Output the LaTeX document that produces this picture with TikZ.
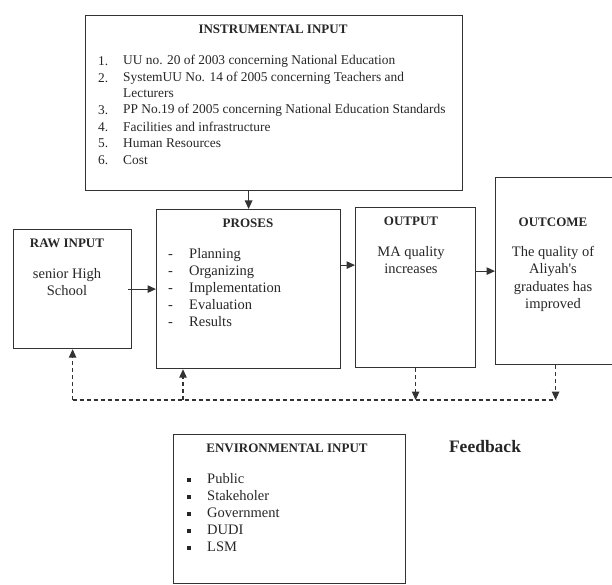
\documentclass[tikz,border=0pt]{standalone}
\usepackage{fontspec}
\setmainfont{Liberation Serif}
\usetikzlibrary{arrows.meta}

\tikzstyle{box} = [draw, line width=1.2pt, inner sep=0pt, anchor=north west]
\tikzstyle{heading} = [font=\fontsize{13}{15}\selectfont\bfseries, inner sep=0pt]
\tikzstyle{entry} = [font=\fontsize{14.5}{17}\selectfont, anchor=west, inner sep=0pt, execute at begin node=\strut]
\tikzstyle{small entry} = [font=\fontsize{13.4}{16}\selectfont, anchor=west, inner sep=0pt]
\tikzstyle{line} = [font=\fontsize{14.5}{17}\selectfont, inner sep=0pt]
\tikzstyle{flow} = [-{Triangle[length=8.5pt,width=7.5pt]}, line width=1.1pt]
\tikzstyle{back} = [flow, dash pattern=on 4pt off 3pt]

\begin{document}
\begin{tikzpicture}[x=1pt, y=-1pt, color=black!80, text=black!85]
      \useasboundingbox (0,0) rectangle (612,585);
      % boxes
      \node[box, minimum width=377pt, minimum height=175pt] (instr) at (85,15) {};
      \node[box, minimum width=184pt, minimum height=159pt] (proses) at (156,209) {};
      \node[box, minimum width=118pt, minimum height=119pt] (raw) at (13,229) {};
      \node[box, minimum width=120pt, minimum height=160pt] (output) at (355,207) {};
      \node[box, minimum width=120pt, minimum height=187pt] (outcome) at (495,177) {};
      \node[box, minimum width=232pt, minimum height=149pt] (env) at (173,434) {};

      % instrumental input
      \node[heading] (instrtitle) at (273,29) {INSTRUMENTAL INPUT};
      \foreach \y/\n/\t in {61/1./UU no. 20 of 2003 concerning National Education,
          78/2./SystemUU No. 14 of 2005 concerning Teachers and,
          93//Lecturers,
          110/3./PP No.19 of 2005 concerning National Education Standards,
          127/4./Facilities and infrastructure,
          143/5./Human Resources,
          160/6./Cost}
        {
        \node[small entry] (instrnum\y) at (98,\y) {\n};
        \node[small entry] (instritem\y) at (123,\y) {\t};
        }

      % raw input
      \node[heading] (rawtitle) at (67,243) {RAW INPUT};
      \node[line] (rawa) at (67,275) {senior High};
      \node[line] (rawb) at (67,291) {School};

      % proses
      \node[heading] (prosestitle) at (248,223) {PROSES};
      \foreach \y/\t in {255/Planning, 272/Organizing, 289/Implementation, 306/Evaluation, 323/Results}
        {
        \node[entry] (prosesdash\y) at (168,\y) {-};
        \node[entry] (prosesitem\y) at (189,\y) {\t};
        }

      % output
      \node[heading] (outputtitle) at (411,221) {OUTPUT};
      \node[line] (outputa) at (411,253) {MA quality};
      \node[line] (outputb) at (411,269) {increases};

      % outcome
      \node[heading] (outcometitle) at (553,222) {OUTCOME};
      \node[line] (outcomea) at (553,253) {The quality of};
      \node[line] (outcomeb) at (553,270) {Aliyah\textquotesingle s};
      \node[line] (outcomec) at (553,288) {graduates has};
      \node[line] (outcomed) at (553,305) {improved};

      % environmental input
      \node[heading] (envtitle) at (287,448) {ENVIRONMENTAL INPUT};
      \foreach \y/\t in {480/Public, 497/Stakeholer, 514/Government, 531/DUDI, 548/LSM}
        {
        \node[inner sep=0pt] (envbullet\y) at (189,\y) {\rule{3.6pt}{3.6pt}};
        \node[entry] (envitem\y) at (207,\y) {\t};
        }
      \node[font=\fontsize{17.5}{20}\selectfont\bfseries, inner sep=0pt] (feedback) at (485,447) {Feedback};

      % arrows
      \coordinate (p2o) at ([yshift=24pt]proses.east);
      \draw[flow] (proses.north |- instr.south) -- (proses.north);
      \draw[flow] ([xshift=-4pt]raw.east) -- (raw.east -| proses.west);
      \draw[flow] (p2o) -- (p2o -| output.west);
      \draw[flow] (outcome.west -| output.east) -- (outcome.west);

      % feedback loop
      \coordinate (fbl) at (72,400);
      \coordinate (fbp) at (183,400);
      \draw[line width=1.1pt, dash pattern=on 4pt off 3pt] (raw.south |- fbl) -- (outcome.south |- fbl);
      \draw[back] (raw.south |- fbl) -- (raw.south);
      \draw[back] (fbp) -- (fbp |- proses.south);
      \draw[back] (output.south) -- (output.south |- fbl);
      \draw[back] (outcome.south) -- (outcome.south |- fbl);
\end{tikzpicture}
\end{document}
